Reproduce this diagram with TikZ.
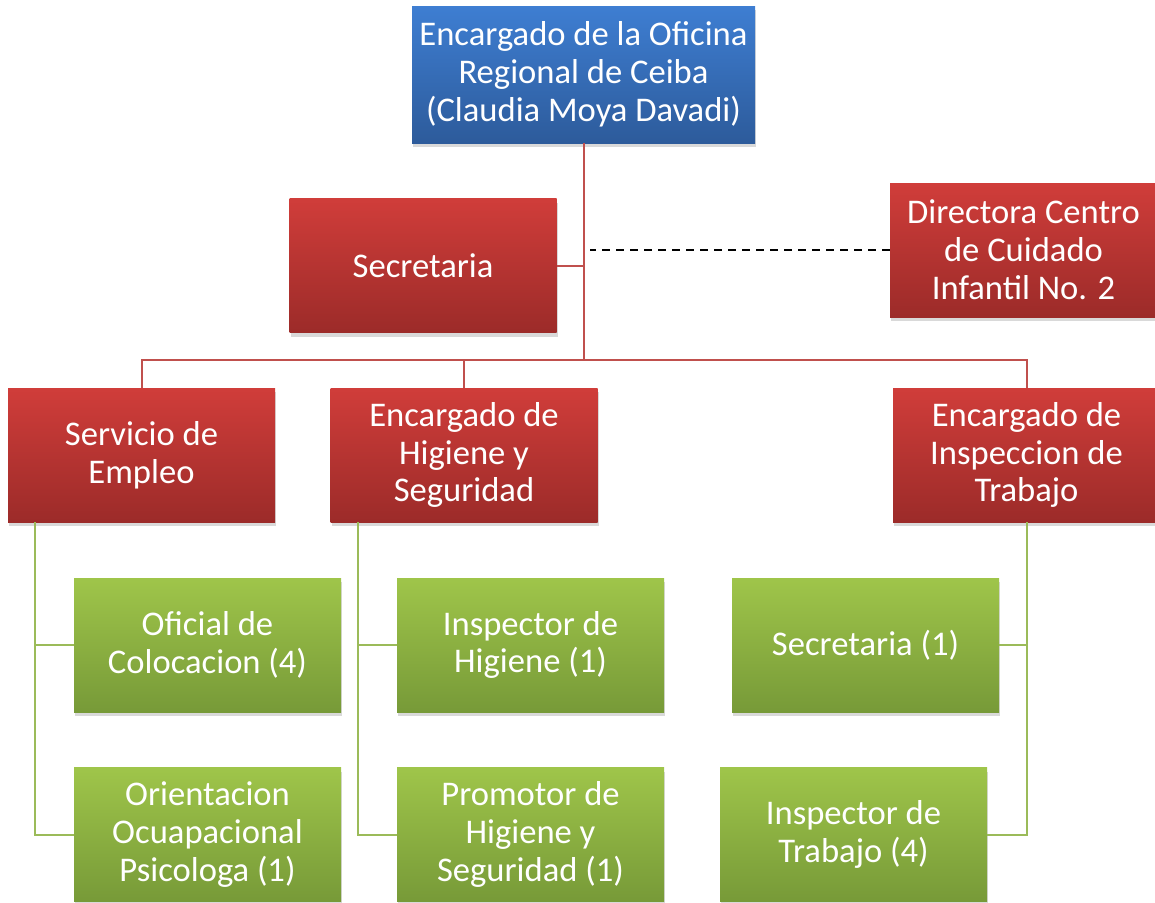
\documentclass[tikz,border=0pt]{standalone}
\usepackage{fontspec}
\setmainfont{Carlito}
\usepackage{tikz}
\usetikzlibrary{ calc, positioning, shadows }
\definecolor{azulA}{HTML}{3E7ED2}
\definecolor{azulB}{HTML}{2D5B9B}
\definecolor{rojoA}{HTML}{D03D3A}
\definecolor{rojoB}{HTML}{9C2B29}
\definecolor{verdeA}{HTML}{9FC54A}
\definecolor{verdeB}{HTML}{779A38}
\definecolor{lineaRoja}{HTML}{C0504D}
\definecolor{lineaVerde}{HTML}{9BBB59}
\tikzset{
every node/.style={inner sep=1pt},
cargo/.style={rectangle, minimum width=133.5pt, minimum height=67pt, align=center,
  text=white, font=\fontsize{17.3}{18.9}\selectfont,
  drop shadow={shadow xshift=0.6pt, shadow yshift=-2pt, opacity=.3}}, % every box of the chart
bluebox/.style={cargo, top color=azulA, bottom color=azulB},
redbox/.style={cargo, top color=rojoA, bottom color=rojoB},
greenbox/.style={cargo, top color=verdeA, bottom color=verdeB},
redln/.style={draw=lineaRoja, line width=1pt},
grnln/.style={draw=lineaVerde, line width=1pt},
}

\begin{document}
\begin{tikzpicture}[x=0.5pt, y=-0.5pt]%pixel grid of the reference
  \useasboundingbox (0,0) rectangle (1155,902);
  % jefe and staff
  \node[bluebox, minimum width=171.5pt, minimum height=68.5pt] (jefe) at (583.5,74.5)
    {Encargado de la Oficina\\Regional de Ceiba\\(Claudia Moya Davadi)};
  \node[redbox] (secr) at (423,265.5) {Secretaria};
  \node[redbox] (dir) at (1023.5,250) {Directora Centro\\de Cuidado\\Infantil No. 2};
  % departments
  \node[redbox] (serv) at (141.5,455) {Servicio de\\Empleo};
  \node[redbox] (hig) at (464,455) {Encargado de\\Higiene y\\Seguridad};
  \node[redbox] (insp) at (1026.5,455) {Encargado de\\Inspeccion de\\Trabajo};
  % personnel
  \node[greenbox] (ofic) at (207.5,645) {Oficial de\\Colocacion (4)};
  \node[greenbox] (orie) at (207.5,834.5) {Orientacion\\Ocuapacional\\Psicologa (1)};
  \node[greenbox] (insh) at (530.5,645) {Inspector de\\Higiene (1)};
  \node[greenbox] (prom) at (530.5,834.5) {Promotor de\\Higiene y\\Seguridad (1)};
  \node[greenbox] (sec1) at (865.5,645) {Secretaria (1)};
  \node[greenbox] (inst) at (853.5,834.5) {Inspector de\\Trabajo (4)};

  \coordinate (bus) at (584,360);

  \path[redln]
  (jefe.south) edge (jefe.south |- bus)
  (secr.east) edge (secr.east -| jefe.south)
  (hig.north) edge (hig.north |- bus);
  \draw[redln] (serv.north) |- (bus) -| (insp.north);
  \draw[dashed, dash pattern=on 4pt off 3pt, line width=0.8pt] (dir.west) -- ([xshift=3pt]dir.west -| jefe.south);

  \draw[grnln] ([xshift=13.5pt]serv.south west) |- (orie.west);
  \draw[grnln] (ofic.west) -| ([xshift=13.5pt]serv.south west);
  \draw[grnln] ([xshift=14pt]hig.south west) |- (prom.west);
  \draw[grnln] (insh.west) -| ([xshift=14pt]hig.south west);
  \draw[grnln] (insp.south) |- (inst.east);
  \draw[grnln] (sec1.east) -| (insp.south);
\end{tikzpicture}
\end{document}
